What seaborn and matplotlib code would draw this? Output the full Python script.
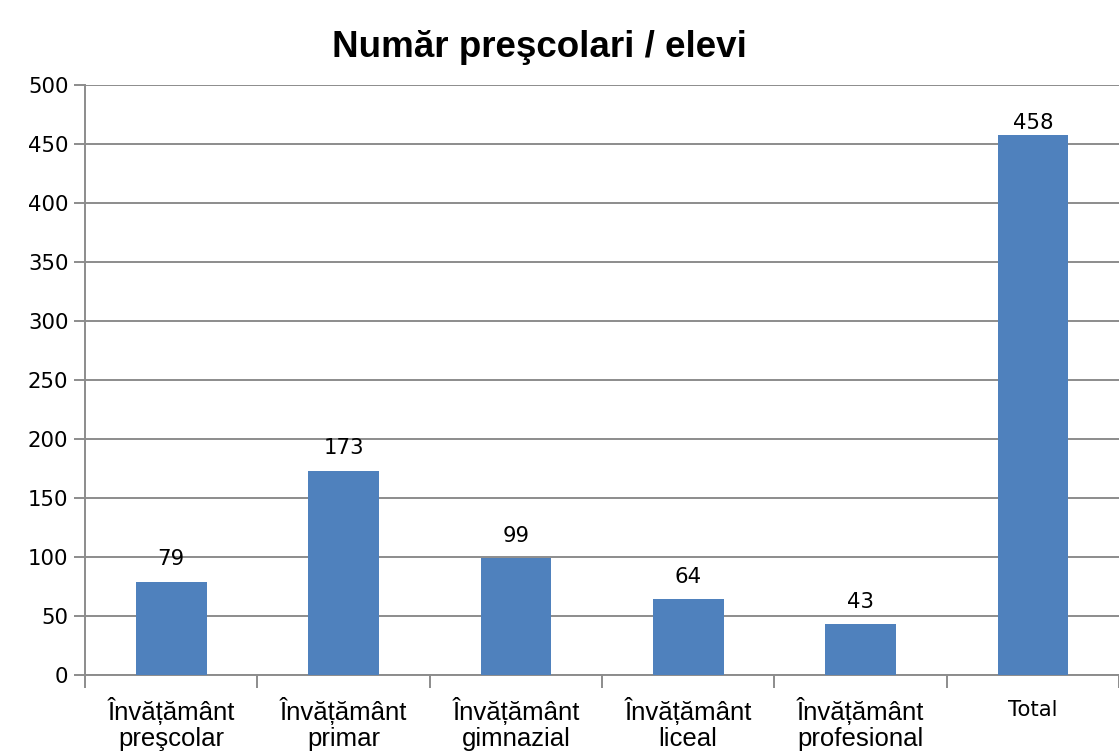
import matplotlib
matplotlib.use("Agg")
import matplotlib.pyplot as plt
import matplotlib.transforms as mtransforms
import seaborn as sns
import pandas as pd
import numpy as np

# chart data
categories = ["Învățământ\npreşcolar", "Învățământ\nprimar", "Învățământ\ngimnazial",
              "Învățământ\nliceal", "Învățământ\nprofesional", "Total"]
values = [79, 173, 99, 64, 43, 458]

df = pd.DataFrame({"categorie": categories, "numar": values})

sns.set_style("white")
plt.rcParams["font.family"] = ["DejaVu Sans"]
plt.rcParams["text.color"] = "black"
plt.rcParams["xtick.color"] = "black"
plt.rcParams["ytick.color"] = "black"

fig = plt.figure(figsize=(11.19, 7.53), dpi=100)
ax = fig.add_axes([0.076, 0.1036, 0.924, 0.7834])

sns.barplot(data=df, x="categorie", y="numar", color="#4F81BD", width=0.41,
            saturation=1, linewidth=0, ax=ax, zorder=3)

ax.set_ylim(0, 500)
ax.set_xlim(-0.5, len(categories) - 0.5)
ax.set_yticks(np.arange(0, 501, 50))
ax.yaxis.grid(True, color="#8C8C8C", linewidth=1.4, zorder=0)
ax.set_axisbelow(True)

for s in ["top", "right"]:
    ax.spines[s].set_visible(False)
for s in ["left", "bottom"]:
    ax.spines[s].set_color("#8C8C8C")
    ax.spines[s].set_linewidth(1.4)

ax.tick_params(axis="y", left=True, length=8, width=1.4, color="#8C8C8C",
               labelcolor="black", labelsize=15.3, pad=4)
ax.tick_params(axis="x", which="major", bottom=True, length=0, pad=16, labelcolor="black")
ax.set_xticks(np.arange(-0.5, len(categories)), minor=True)
ax.tick_params(axis="x", which="minor", bottom=True, length=9, width=1.4, color="#8C8C8C")

for lbl in ax.get_xticklabels():
    if lbl.get_text() == "Total":
        lbl.set_fontfamily("DejaVu Sans")
        lbl.set_fontsize(15.3)
        lbl.set_transform(lbl.get_transform() +
                          mtransforms.ScaledTranslation(0, -2 / 72, fig.dpi_scale_trans))
    else:
        lbl.set_fontfamily("Liberation Sans")
        lbl.set_fontsize(18.5)
    lbl.set_linespacing(1.08)

ax.set_xlabel("")
ax.set_ylabel("")

for i, v in enumerate(values):
    off = 1 if v > 440 else 9
    ax.annotate(str(v), (i, v), xytext=(0, off), textcoords="offset points",
                ha="center", va="bottom", fontsize=15.3, color="black")

fig.text(0.482, 0.937, "Număr preşcolari / elevi", ha="center", va="center",
         fontsize=26.5, fontweight="bold", family="Liberation Sans", color="black")

fig.savefig("out.png", dpi=100)
